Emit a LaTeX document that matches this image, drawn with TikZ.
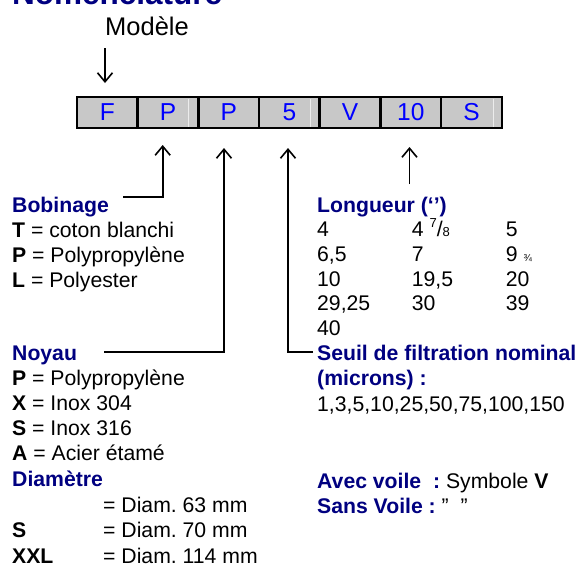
\documentclass[tikz,border=0pt]{standalone}
\usepackage{fontspec}
\setmainfont{Liberation Sans}
\usetikzlibrary{arrows.meta}
\definecolor{navy}{RGB}{0,0,128}
\definecolor{cellgray}{RGB}{200,200,200}
\frenchspacing
\begin{document}
\begin{tikzpicture}[x=1pt,y=-1pt,
  txt/.style={anchor=base west,inner sep=0pt,font=\fontsize{21.2}{25}\selectfont},
  head/.style={anchor=base west,inner sep=0pt,text=navy,font=\fontsize{21.2}{25}\selectfont\bfseries},
  cell/.style={draw=black,line width=2.6pt,fill=cellgray,minimum width=60.7pt,minimum height=31pt,inner sep=0pt,text=blue,font=\fontsize{24.5}{24}\selectfont},
  conn/.style={line width=1.6pt,-{Straight Barb[length=9pt,width=15pt]}},
  link/.style={line width=1.6pt}]
\useasboundingbox (0,0) rectangle (581,566);

% title (mostly cut off at the top)
\node[anchor=base west,inner sep=0pt,text=navy,font=\fontsize{31.5}{32}\selectfont\bfseries] (title) at (12,4) {Nomenclature};

% model label
\node[anchor=base west,inner sep=0pt,font=\fontsize{25.5}{26}\selectfont] (modele) at (105,35) {Modèle};

% code cells
\node[cell] (c1) at (107.3,112.5) {F};
\node[cell] (c2) at (168.0,112.5) {P};
\node[cell] (c3) at (228.7,112.5) {P};
\node[cell] (c4) at (289.4,112.5) {5};
\node[cell] (c5) at (350.1,112.5) {V};
\node[cell] (c6) at (410.8,112.5) {10};
\node[cell] (c7) at (471.5,112.5) {S};
\foreach \xx in {188.5,310,493}
  \draw[white!85!gray,line width=0.6pt] (\xx,98.5) -- (\xx,126.5);

% left column
\node[head] (bob) at (12,212) {Bobinage};
\node[txt] (bobT) at (12,237) {\textbf{T} = coton blanchi};
\node[txt] (bobP) at (12,262.3) {\textbf{P} = Polypropylène};
\node[txt] (bobL) at (12,287.6) {\textbf{L} = Polyester};

\node[head] (noy) at (12,360) {Noyau};
\node[txt] (noyP) at (12,385.2) {\textbf{P} = Polypropylène};
\node[txt] (noyX) at (12,410.4) {\textbf{X} = Inox 304};
\node[txt] (noyS) at (12,435.6) {\textbf{S} = Inox 316};
\node[txt] (noyA) at (12,460.8) {\textbf{A} = Acier étamé};
\node[head] (diam) at (12,486.8) {Diamètre};
\node[txt] (d1) at (103,512.4) {= Diam. 63 mm};
\node[txt] (dSk) at (12,537.8) {\textbf{S}};
\node[txt] (dS) at (103,537.8) {= Diam. 70 mm};
\node[txt] (dXk) at (12,563) {\textbf{XXL}};
\node[txt] (dX) at (103,563) {= Diam. 114 mm};

% right column
\node[head] (lon) at (317,212.5) {Longueur (‘’)};
\node[txt] (l11) at (317,236.8) {4};
\node[txt] (l12) at (411.7,236.8) {4 \raisebox{0.42em}{\fontsize{13}{13}\selectfont 7}/{\fontsize{13}{13}\selectfont 8}};
\node[txt] (l13) at (505.7,236.8) {5};
\node[txt] (l21) at (317,261.6) {6,5};
\node[txt] (l22) at (411.7,261.6) {7};
\node[txt] (l23) at (505.7,261.6) {9 {\fontsize{10}{10}\selectfont ¾}};
\node[txt] (l31) at (317,286.4) {10};
\node[txt] (l32) at (411.7,286.4) {19,5};
\node[txt] (l33) at (505.7,286.4) {20};
\node[txt] (l41) at (317,310.6) {29,25};
\node[txt] (l42) at (411.7,310.6) {30};
\node[txt] (l43) at (505.7,310.6) {39};
\node[txt] (l51) at (317,335.2) {40};

\node[head] (seuil) at (317,360) {Seuil de filtration nominal};
\node[head] (mic) at (317,385.2) {(microns) :};
\node[txt] (micv) at (317,411.5) {1,3,5,10,25,50,75,100,150};

\node[txt] (avec) at (317,488) {\textcolor{navy}{\bfseries Avec voile\ \ :} Symbole \textbf{V}};
\node[txt] (sans) at (317,513) {\textcolor{navy}{\bfseries Sans Voile :} ”\ \ ”};

% connectors
\coordinate (mtop) at (105,48);
\coordinate (mtip) at (105,83);
\draw[conn] (mtop) -- (mtip);

\coordinate (b0) at (123,197);
\coordinate (b1) at (162.7,197);
\coordinate (b2) at (162.7,145);
\draw[conn] (b0) -- (b1) -- (b2);

\coordinate (n0) at (104,352);
\coordinate (n1) at (224,352);
\coordinate (n2) at (224,148);
\draw[conn] (n0) -- (n1) -- (n2);

\coordinate (s0) at (313,352);
\coordinate (s1) at (288,352);
\coordinate (s2) at (288,148);
\draw[conn] (s0) -- (s1) -- (s2);

\coordinate (g0) at (409.5,184);
\coordinate (g1) at (409.5,147);
\draw[conn] (g0) -- (g1);
\end{tikzpicture}
\end{document}
